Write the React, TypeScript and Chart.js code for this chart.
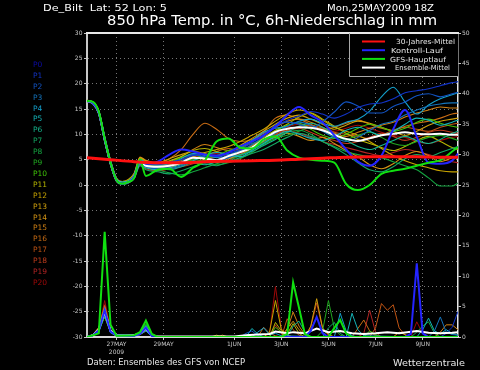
import React, { useEffect, useRef } from 'react';
import { Chart, registerables } from 'chart.js';

Chart.register(...registerables);

// ---------- texts ----------
const HEADER_LEFT = 'De_Bilt  Lat: 52 Lon: 5';
const HEADER_RIGHT = 'Mon,25MAY2009 18Z';
const TITLE = '850 hPa Temp. in °C, 6h-Niederschlag in mm';
const FOOTER_LEFT = 'Daten: Ensembles des GFS von NCEP';
const FOOTER_RIGHT = 'Wetterzentrale';
const LEGEND_LABELS = ['30-Jahres-Mittel', 'Kontroll-Lauf', 'GFS-Hauptlauf', 'Ensemble-Mittel'];
const MEMBER_LABELS = ['P0', 'P1', 'P2', 'P3', 'P4', 'P5', 'P6', 'P7', 'P8', 'P9', 'P10',
  'P11', 'P12', 'P13', 'P14', 'P15', 'P16', 'P17', 'P18', 'P19', 'P20'];
const MEMBER_LABEL_COLORS = ['#0c0ca8', '#1234c8', '#1254c4', '#1474bc', '#14a0cc', '#14b4b8', '#14b48c',
  '#14a864', '#14a440', '#20a820', '#40c408', '#b4b400', '#c8a400', '#d0a00c', '#d49414', '#d08014',
  '#c86c14', '#c05414', '#c03c1c', '#b42424', '#a00808'];

// ---------- x axis (hours after 25MAY2009 18Z) ----------
const X_MAX_HOURS = 378;
const X_TICK_HOURS = [30, 78, 150, 198, 246, 294, 342];
const X_TICK_LABELS: (string | string[])[] = [['27MAY', '2009'], '29MAY', '1JUN', '3JUN', '5JUN', '7JUN', '9JUN'];

// ---------- 850 hPa temperature (°C) ----------
const T_HOURS = [0, 6, 12, 18, 24, 30, 36, 42, 48, 54, 60, 72, 84, 96, 108, 120, 132, 144, 156, 168, 180, 192,
  204, 216, 228, 240, 252, 264, 276, 288, 300, 312, 324, 336, 348, 360, 372, 378];

const T_P1 = [16.5, 16.1, 14.2, 9.2, 4.5, 1.1, 0.3, 0.5, 1.8, 4.8, 4.2, 4.0, 4.5, 5.0, 5.8, 6.0, 5.6, 6.2, 7.0, 8.4, 10.0, 11.5, 12.8, 13.6, 14.5, 14.0, 13.2, 14.0, 15.3, 16.0, 16.2, 17.0, 18.2, 18.6, 19.0, 19.6, 20.2, 20.4];
const T_P2 = [16.6, 16.0, 14.0, 8.6, 4.0, 0.8, 0.2, 0.6, 1.5, 4.2, 3.6, 3.2, 3.6, 4.6, 6.0, 5.6, 4.8, 5.4, 6.6, 8.0, 9.6, 11.8, 12.4, 12.0, 11.2, 12.5, 14.4, 16.4, 15.6, 14.2, 14.2, 15.5, 16.4, 17.6, 18.0, 17.4, 18.0, 18.3];
const T_P3 = [16.6, 16.3, 14.5, 9.4, 4.6, 1.2, 0.5, 0.7, 1.7, 4.6, 3.9, 3.4, 3.2, 3.8, 4.6, 4.4, 5.0, 5.9, 6.8, 7.4, 8.8, 10.2, 11.6, 12.4, 11.8, 10.6, 9.4, 8.6, 9.4, 10.8, 12.0, 12.6, 13.8, 14.8, 15.6, 16.0, 16.2, 16.2];
const T_P4 = [16.5, 16.2, 14.1, 8.8, 4.2, 0.9, 0.3, 0.5, 1.9, 5.0, 4.4, 3.9, 4.2, 5.2, 6.2, 6.0, 5.4, 6.4, 7.6, 8.8, 10.4, 11.2, 11.6, 12.6, 13.0, 12.2, 11.6, 12.4, 13.0, 14.6, 17.4, 19.3, 16.4, 14.0, 15.8, 17.0, 17.8, 18.2];
const T_P5 = [16.6, 16.1, 14.4, 9.1, 4.4, 1.1, 0.5, 0.8, 1.4, 4.1, 3.4, 3.0, 3.4, 4.0, 4.8, 5.8, 6.4, 6.0, 5.6, 6.8, 8.2, 9.6, 10.6, 10.0, 9.2, 8.8, 9.6, 10.8, 11.4, 10.6, 9.8, 10.6, 12.0, 13.2, 12.8, 11.8, 12.4, 12.8];
const T_P6 = [16.7, 16.3, 14.6, 9.5, 4.8, 1.3, 0.6, 0.7, 1.6, 4.4, 3.7, 3.4, 3.0, 3.6, 4.4, 4.0, 4.6, 5.4, 6.0, 6.6, 7.8, 9.0, 10.4, 11.6, 12.2, 11.4, 10.0, 8.8, 7.6, 7.0, 7.8, 8.8, 9.6, 8.8, 8.2, 9.0, 10.2, 10.6];
const T_P7 = [16.6, 16.2, 14.2, 8.9, 4.1, 0.9, 0.2, 0.4, 1.2, 3.8, 3.0, 2.6, 2.2, 2.8, 3.6, 4.2, 3.8, 4.6, 5.4, 6.2, 7.0, 8.2, 9.4, 10.2, 9.6, 8.6, 7.4, 6.0, 4.4, 3.0, 2.6, 3.6, 5.2, 6.0, 5.6, 6.4, 7.2, 7.6];
const T_P8 = [16.5, 16.0, 14.0, 8.7, 4.0, 0.7, 0.1, 0.4, 1.5, 4.3, 3.5, 3.0, 2.4, 2.0, 2.6, 3.4, 4.2, 4.8, 5.8, 7.0, 8.4, 9.6, 10.4, 10.8, 10.0, 8.6, 7.6, 6.6, 6.0, 5.6, 5.4, 4.6, 3.8, 3.0, 1.4, -0.2, -0.2, 0.4];
const T_P9 = [16.6, 16.2, 14.3, 9.0, 4.3, 1.0, 0.4, 0.6, 1.7, 4.6, 3.7, 3.2, 3.8, 4.2, 5.0, 4.6, 4.0, 4.4, 5.2, 6.4, 8.0, 9.2, 9.8, 10.6, 11.4, 10.8, 9.6, 9.0, 9.8, 10.4, 9.4, 8.2, 7.8, 8.6, 9.4, 9.8, 9.2, 8.8];
const T_P10 = [16.6, 16.3, 14.4, 9.3, 4.6, 1.2, 0.6, 0.9, 2.0, 5.1, 4.3, 3.8, 4.4, 5.4, 6.0, 5.4, 5.8, 6.8, 7.4, 8.2, 9.0, 10.6, 11.8, 12.2, 11.0, 9.8, 9.2, 10.0, 11.2, 12.0, 11.4, 10.6, 11.2, 12.4, 13.0, 12.2, 11.6, 11.4];
const T_P11 = [16.7, 16.4, 14.7, 9.6, 4.9, 1.4, 0.7, 1.0, 2.1, 5.2, 4.6, 4.2, 4.8, 5.6, 6.8, 7.2, 6.6, 6.0, 6.8, 7.8, 9.4, 10.8, 12.0, 13.4, 14.2, 13.0, 11.6, 10.2, 9.0, 8.2, 7.4, 6.8, 7.6, 8.8, 9.6, 8.6, 7.4, 7.0];
const T_P12 = [16.6, 16.2, 14.3, 9.1, 4.4, 1.0, 0.3, 0.6, 1.8, 4.7, 4.0, 3.6, 4.0, 4.8, 5.6, 6.4, 7.0, 7.6, 8.6, 9.8, 11.0, 12.6, 14.0, 14.8, 14.2, 12.8, 11.4, 10.6, 9.8, 8.6, 7.2, 5.8, 4.8, 4.0, 3.4, 2.8, 2.6, 2.6];
const T_P13 = [16.5, 16.1, 14.2, 9.0, 4.4, 1.1, 0.5, 0.9, 2.2, 5.4, 4.8, 4.4, 5.2, 6.0, 6.6, 6.2, 5.6, 6.4, 7.8, 9.2, 10.6, 12.0, 13.2, 13.8, 13.0, 12.0, 11.0, 11.8, 12.6, 12.2, 11.4, 10.6, 9.8, 10.6, 11.8, 12.6, 13.0, 13.2];
const T_P14 = [16.6, 16.0, 14.0, 8.8, 4.1, 0.8, 0.3, 0.5, 1.4, 4.2, 3.5, 3.0, 3.4, 4.4, 5.6, 5.0, 4.4, 5.2, 6.0, 7.2, 8.6, 9.4, 10.2, 9.6, 8.8, 9.4, 8.2, 6.8, 5.6, 4.0, 3.2, 4.2, 5.8, 6.6, 5.8, 4.6, 5.4, 5.8];
const T_P15 = [16.7, 16.3, 14.5, 9.3, 4.7, 1.3, 0.6, 0.9, 2.0, 5.0, 4.5, 4.0, 4.6, 5.6, 7.0, 8.0, 7.4, 6.8, 7.2, 8.6, 10.2, 11.4, 12.6, 13.0, 12.4, 11.4, 10.2, 9.6, 10.4, 11.2, 11.8, 12.4, 13.4, 14.2, 14.8, 15.4, 15.2, 15.2];
const T_P16 = [16.6, 16.4, 14.6, 9.4, 4.8, 1.4, 0.7, 1.1, 2.3, 5.5, 4.9, 4.4, 5.2, 7.0, 10.0, 12.2, 11.0, 9.2, 8.6, 9.0, 10.6, 13.2, 13.8, 13.0, 12.0, 11.0, 11.4, 12.2, 12.8, 12.0, 11.2, 10.8, 11.6, 12.2, 12.6, 13.2, 14.0, 14.2];
const T_P17 = [16.6, 16.1, 14.1, 8.9, 4.2, 0.9, 0.3, 0.6, 1.6, 4.4, 3.8, 3.4, 3.8, 4.2, 5.0, 5.8, 6.6, 7.2, 6.8, 7.4, 8.8, 10.0, 10.8, 11.6, 11.8, 11.2, 10.4, 10.0, 9.6, 9.2, 9.8, 10.8, 11.4, 11.0, 10.6, 11.4, 12.0, 12.2];
const T_P18 = [16.5, 16.0, 14.0, 8.6, 3.9, 0.7, 0.2, 0.4, 1.3, 3.9, 3.2, 2.8, 3.2, 3.6, 4.2, 5.0, 5.6, 5.2, 5.8, 7.0, 8.6, 9.8, 10.6, 11.2, 10.4, 9.4, 8.8, 8.2, 8.6, 9.4, 10.2, 9.6, 8.8, 9.4, 10.4, 10.8, 10.4, 10.2];
const T_P19 = [16.6, 16.2, 14.4, 9.2, 4.5, 1.1, 0.4, 0.7, 1.8, 4.6, 4.0, 3.8, 4.2, 5.0, 5.8, 5.4, 5.0, 5.6, 6.4, 7.8, 9.2, 10.2, 10.8, 10.2, 9.4, 8.6, 8.0, 7.4, 6.8, 6.2, 5.8, 6.4, 7.0, 6.6, 6.0, 5.2, 4.6, 4.4];
const T_P20 = [16.7, 16.2, 14.3, 9.0, 4.3, 1.0, 0.4, 0.6, 1.5, 4.4, 3.6, 3.2, 3.6, 4.2, 5.2, 5.8, 6.2, 5.8, 6.2, 7.2, 8.8, 10.4, 11.4, 12.0, 11.6, 11.0, 10.6, 11.2, 11.8, 11.2, 10.4, 9.8, 9.4, 8.6, 8.2, 8.8, 9.4, 9.6];
const T_CONTROL = [16.6, 16.2, 14.3, 9.1, 4.4, 1.0, 0.4, 0.6, 1.7, 4.6, 4.2, 4.6, 6.0, 7.0, 6.6, 6.0, 5.8, 6.4, 7.6, 8.6, 9.8, 11.5, 13.8, 15.4, 13.8, 12.4, 9.8, 7.0, 4.6, 3.8, 5.8, 11.0, 14.8, 9.5, 4.4, 4.2, 4.8, 6.2];
const T_GFS = [16.6, 16.4, 14.5, 9.2, 4.4, 1.0, 0.3, 0.6, 1.4, 5.0, 1.8, 3.0, 3.2, 1.6, 3.4, 4.8, 8.6, 9.2, 7.4, 7.2, 9.0, 9.6, 6.8, 5.4, 5.0, 4.8, 4.4, 0.2, -1.0, 0.0, 2.2, 2.8, 3.2, 3.8, 4.4, 4.9, 6.6, 7.5];
const T_MEAN = [16.6, 16.2, 14.3, 9.0, 4.3, 1.0, 0.4, 0.6, 1.7, 4.6, 3.8, 3.6, 3.8, 4.4, 5.4, 5.2, 4.9, 5.7, 6.5, 7.4, 9.0, 10.5, 11.1, 11.4, 11.3, 10.8, 9.9, 9.1, 8.7, 9.2, 9.8, 10.1, 10.4, 10.1, 10.0, 10.1, 9.9, 9.9];

const CLIM_HOURS = [0, 24, 48, 72, 96, 120, 144, 168, 192, 216, 240, 264, 288, 312, 336, 360, 378];
const T_CLIM = [5.4, 5.0, 4.6, 4.4, 4.4, 4.6, 4.7, 4.8, 4.9, 5.1, 5.3, 5.5, 5.6, 5.6, 5.6, 5.5, 5.5];

// ---------- 6h precipitation (mm), [hour, mm] ----------
const R_P1 = [[0, 0], [6, 0.2], [12, 1.0], [18, 3.8], [24, 0.9], [30, 0.3], [48, 0.2], [54, 0.4], [60, 1.3], [66, 0.2], [72, 0], [360, 0], [366, 0.6], [372, 1.6], [378, 4.2]];
const R_P2 = [[0, 0], [6, 0.3], [12, 1.3], [18, 4.4], [24, 0.8], [30, 0.2], [48, 0.3], [54, 0.6], [60, 1.6], [66, 0.3], [72, 0], [156, 0], [162, 0.6], [168, 1.0], [174, 0.2], [180, 0], [222, 0], [228, 1.2], [234, 3.3], [240, 0.8], [246, 0], [378, 0]];
const R_P3 = [[0, 0], [6, 0.2], [12, 0.9], [18, 4.0], [24, 1.0], [30, 0.3], [48, 0.2], [54, 0.5], [60, 1.2], [66, 0.2], [72, 0], [348, 0], [354, 1.0], [360, 3.3], [366, 0.8], [372, 0.4], [378, 0.3]];
const R_P4 = [[0, 0], [6, 0.3], [12, 1.1], [18, 3.6], [24, 0.7], [30, 0.2], [48, 0.2], [54, 0.4], [60, 1.0], [66, 0.1], [72, 0], [168, 0], [174, 0.8], [180, 1.5], [186, 0.4], [192, 0.6], [198, 0.2], [252, 0], [258, 3.9], [264, 1.0], [270, 0.2], [276, 0], [378, 0]];
const R_P5 = [[0, 0], [6, 0.2], [12, 1.0], [18, 4.1], [24, 1.1], [30, 0.3], [48, 0.3], [54, 0.6], [60, 1.8], [66, 0.3], [72, 0], [162, 0], [168, 1.4], [174, 0.5], [180, 0], [264, 0], [270, 3.9], [276, 1.2], [282, 0.2], [336, 0], [342, 1.2], [348, 3.1], [354, 1.0], [360, 0.5], [366, 1.2], [372, 0.6], [378, 0.3]];
const R_P6 = [[0, 0], [6, 0.2], [12, 0.8], [18, 3.5], [24, 0.8], [30, 0.2], [48, 0.2], [54, 0.5], [60, 1.4], [66, 0.2], [72, 0], [204, 0], [210, 1.8], [216, 2.6], [222, 0.8], [228, 0], [378, 0]];
const R_P7 = [[0, 0], [6, 0.3], [12, 1.2], [18, 4.6], [24, 1.0], [30, 0.3], [48, 0.3], [54, 0.7], [60, 2.0], [66, 0.4], [72, 0], [240, 0], [246, 1.5], [252, 2.4], [258, 0.6], [264, 0], [378, 0]];
const R_P8 = [[0, 0], [6, 0.2], [12, 1.0], [18, 3.9], [24, 0.9], [30, 0.2], [48, 0.2], [54, 0.6], [60, 1.7], [66, 0.3], [72, 0], [330, 0], [336, 0.8], [342, 1.8], [348, 2.5], [354, 0.6], [360, 0], [378, 0]];
const R_P9 = [[0, 0], [6, 0.3], [12, 1.1], [18, 4.3], [24, 0.8], [30, 0.2], [48, 0.3], [54, 0.7], [60, 2.2], [66, 0.4], [72, 0], [234, 0], [240, 1.0], [246, 6.0], [252, 1.4], [258, 0.3], [264, 0], [378, 0]];
const R_P10 = [[0, 0], [6, 0.2], [12, 0.9], [18, 3.4], [24, 0.7], [30, 0.2], [48, 0.2], [54, 0.5], [60, 1.5], [66, 0.2], [72, 0], [186, 0], [192, 1.6], [198, 0.8], [204, 0], [282, 0], [288, 1.0], [294, 0.4], [300, 0], [378, 0]];
const R_P11 = [[0, 0], [6, 0.4], [12, 1.4], [18, 4.8], [24, 1.0], [30, 0.3], [48, 0.2], [54, 0.4], [60, 1.1], [66, 0.2], [72, 0], [126, 0], [132, 0.3], [138, 0], [186, 0], [192, 2.4], [198, 1.0], [204, 0.5], [210, 2.2], [216, 0.6], [222, 0], [378, 0]];
const R_P12 = [[0, 0], [6, 0.3], [12, 1.2], [18, 3.3], [24, 0.8], [30, 0.2], [48, 0.2], [54, 0.5], [60, 1.2], [66, 0.2], [72, 0], [180, 0], [186, 0.8], [192, 6.0], [198, 1.2], [204, 0.3], [210, 0], [378, 0]];
const R_P13 = [[0, 0], [6, 0.3], [12, 1.3], [18, 4.5], [24, 0.9], [30, 0.3], [48, 0.3], [54, 0.6], [60, 1.4], [66, 0.3], [72, 0], [132, 0], [138, 0.3], [144, 0], [222, 0], [228, 1.8], [234, 6.3], [240, 1.5], [246, 0.4], [252, 0], [378, 0]];
const R_P14 = [[0, 0], [6, 0.4], [12, 1.5], [18, 5.0], [24, 1.1], [30, 0.3], [48, 0.2], [54, 0.4], [60, 1.0], [66, 0.2], [72, 0], [198, 0], [204, 1.4], [210, 2.6], [216, 1.2], [222, 0.3], [228, 0], [312, 0], [318, 0.8], [324, 0.4], [330, 0], [378, 0]];
const R_P15 = [[0, 0], [6, 0.3], [12, 1.2], [18, 4.4], [24, 1.0], [30, 0.3], [48, 0.2], [54, 0.5], [60, 1.3], [66, 0.2], [72, 0], [198, 0], [204, 1.2], [210, 4.1], [216, 1.8], [222, 0.4], [228, 0], [354, 0], [360, 0.8], [366, 2.0], [372, 2.0], [378, 1.2]];
const R_P16 = [[0, 0], [6, 0.4], [12, 1.6], [18, 4.7], [24, 1.2], [30, 0.4], [48, 0.2], [54, 0.5], [60, 1.5], [66, 0.3], [72, 0], [174, 0], [180, 1.6], [186, 0.6], [192, 0.2], [198, 0], [270, 0], [276, 1.4], [282, 2.8], [288, 1.0], [294, 0.2], [300, 0], [378, 0]];
const R_P17 = [[0, 0], [6, 0.3], [12, 1.1], [18, 4.2], [24, 0.9], [30, 0.3], [48, 0.2], [54, 0.6], [60, 1.6], [66, 0.2], [72, 0], [198, 0], [204, 3.0], [210, 1.2], [216, 0.3], [222, 0], [288, 0], [294, 1.5], [300, 5.5], [306, 4.4], [312, 5.3], [318, 1.5], [324, 0.3], [330, 0], [378, 0]];
const R_P18 = [[0, 0], [6, 0.4], [12, 1.4], [18, 5.3], [24, 1.1], [30, 0.4], [48, 0.3], [54, 0.6], [60, 1.9], [66, 0.4], [72, 0], [222, 0], [228, 1.6], [234, 5.6], [240, 1.4], [246, 0.3], [252, 0], [378, 0]];
const R_P19 = [[0, 0], [6, 0.3], [12, 1.3], [18, 5.2], [24, 1.0], [30, 0.3], [48, 0.2], [54, 0.5], [60, 1.2], [66, 0.2], [72, 0], [186, 0], [192, 2.0], [198, 0.6], [204, 0], [276, 0], [282, 0.6], [288, 4.4], [294, 0.8], [300, 0], [378, 0]];
const R_P20 = [[0, 0], [6, 0.3], [12, 1.2], [18, 6.0], [24, 1.3], [30, 0.4], [48, 0.3], [54, 0.6], [60, 1.5], [66, 0.3], [72, 0], [180, 0], [186, 0.6], [192, 8.3], [198, 1.4], [204, 0.3], [210, 0], [330, 0], [336, 2.5], [342, 0.6], [348, 0], [378, 0]];
const R_CONTROL = [[0, 0], [6, 0.3], [12, 1.1], [18, 4.4], [24, 0.9], [30, 0.3], [48, 0.2], [54, 0.5], [60, 1.5], [66, 0.2], [72, 0], [222, 0], [228, 1.0], [234, 3.3], [240, 0.6], [246, 0], [324, 0], [330, 0.5], [336, 12.1], [342, 0.6], [348, 0], [378, 0]];
const R_GFS = [[0, 0], [6, 0.3], [12, 0.6], [18, 17.3], [24, 2.0], [30, 0.2], [48, 0.3], [54, 0.8], [60, 2.7], [66, 0.5], [72, 0], [198, 0], [204, 0.5], [210, 9.0], [216, 4.8], [222, 0.5], [228, 0], [246, 0], [252, 1.5], [258, 2.8], [264, 0.6], [270, 0], [378, 0]];
const R_MEAN = [[0, 0], [6, 0.3], [12, 1.2], [18, 4.2], [24, 1.0], [30, 0.3], [36, 0.3], [48, 0.3], [54, 0.6], [60, 1.4], [66, 0.3], [72, 0.1], [150, 0.1], [162, 0.3], [174, 0.4], [186, 0.5], [192, 0.9], [204, 0.6], [210, 0.8], [222, 0.6], [234, 1.4], [246, 0.8], [258, 1.0], [270, 0.6], [282, 0.5], [294, 0.6], [306, 0.8], [318, 0.6], [336, 1.0], [348, 0.7], [360, 0.6], [372, 0.7], [378, 0.8]];

const MEMBER_TEMPS = [T_P1, T_P2, T_P3, T_P4, T_P5, T_P6, T_P7, T_P8, T_P9, T_P10, T_P11, T_P12, T_P13, T_P14, T_P15, T_P16, T_P17, T_P18, T_P19, T_P20];
const MEMBER_PRECIP = [R_P1, R_P2, R_P3, R_P4, R_P5, R_P6, R_P7, R_P8, R_P9, R_P10, R_P11, R_P12, R_P13, R_P14, R_P15, R_P16, R_P17, R_P18, R_P19, R_P20];

// ---------- styles ----------
const COLOR_CLIM = '#ff1010';
const COLOR_CONTROL = '#2424ff';
const COLOR_GFS = '#10e010';
const COLOR_MEAN = '#ffffff';
const LEGEND_COLORS = [COLOR_CLIM, COLOR_CONTROL, COLOR_GFS, COLOR_MEAN];
const FONT = 'DejaVu Sans';
const AXIS_TEXT = '#c8c8c8';
const GRID_COLOR = '#767676';

function drawFitted(ctx: CanvasRenderingContext2D, text: string, x: number, y: number, width: number, size: number, color: string) {
  ctx.save();
  ctx.font = `${size}px "${FONT}"`;
  ctx.fillStyle = color;
  ctx.textAlign = 'left';
  ctx.textBaseline = 'alphabetic';
  const w = ctx.measureText(text).width || 1;
  ctx.translate(x, y);
  ctx.scale(width / w, 1);
  ctx.fillText(text, 0, 0);
  ctx.restore();
}

const decorPlugin = {
  id: 'decor',
  beforeDraw(chart: any) {
    const ctx = chart.ctx as CanvasRenderingContext2D;
    ctx.save();
    ctx.fillStyle = '#000';
    ctx.fillRect(0, 0, chart.width, chart.height);
    ctx.restore();
  },
  afterDraw(chart: any) {
    const ctx = chart.ctx as CanvasRenderingContext2D;
    const a = chart.chartArea;
    ctx.save();
    // frame top
    ctx.strokeStyle = '#e8e8e8';
    ctx.lineWidth = 2;
    ctx.beginPath();
    ctx.moveTo(a.left - 1, a.top);
    ctx.lineTo(a.right + 1, a.top);
    ctx.stroke();

    // legend box
    const lw = 109, lh = 43;
    const lx = a.right - lw, ly = a.top;
    ctx.fillStyle = '#000';
    ctx.fillRect(lx, ly + 1, lw, lh - 1);
    ctx.strokeStyle = '#a8a8a8';
    ctx.lineWidth = 1;
    ctx.beginPath();
    ctx.moveTo(lx + 0.5, ly);
    ctx.lineTo(lx + 0.5, ly + lh + 0.5);
    ctx.lineTo(a.right, ly + lh + 0.5);
    ctx.stroke();
    const textX = [396, 391, 390, 395];
    const textW = [59, 52, 56, 55];
    LEGEND_LABELS.forEach((label, i) => {
      const yy = ly + 8.5 + i * 8.7;
      ctx.strokeStyle = LEGEND_COLORS[i];
      ctx.lineWidth = 2;
      ctx.beginPath();
      ctx.moveTo(lx + 13, yy);
      ctx.lineTo(lx + 36, yy);
      ctx.stroke();
      drawFitted(ctx, label, textX[i], yy + 2.6, textW[i], 7, '#e4e4e4');
    });

    // header and footer
    drawFitted(ctx, HEADER_LEFT, 43, 10.5, 124, 9, '#ffffff');
    drawFitted(ctx, HEADER_RIGHT, 327, 10.5, 107, 9, '#ffffff');
    drawFitted(ctx, TITLE, 107, 25, 330, 14.5, '#ffffff');
    drawFitted(ctx, FOOTER_LEFT, 87, 364.5, 158, 8, '#e8e8e8');
    drawFitted(ctx, FOOTER_RIGHT, 393, 365.5, 72, 9, '#e8e8e8');

    // member labels
    ctx.font = `7.5px "${FONT}"`;
    ctx.textAlign = 'left';
    ctx.textBaseline = 'middle';
    MEMBER_LABELS.forEach((label, i) => {
      ctx.fillStyle = MEMBER_LABEL_COLORS[i];
      ctx.fillText(label, 33, 65 + i * 10.9);
    });
    ctx.restore();
  },
};

function tempData(values: number[], hours: number[] = T_HOURS) {
  return hours.map((h, i) => ({ x: h, y: values[i] }));
}
function precipData(pairs: number[][]) {
  return pairs.map(([h, v]) => ({ x: h, y: v }));
}

export default function App() {
  const ref = useRef<HTMLCanvasElement | null>(null);

  useEffect(() => {
    document.body.style.margin = '0';
    document.body.style.background = '#000';
    const canvas = ref.current;
    if (!canvas) return;

    const line = (data: any[], color: string, width: number, axis: string, smooth: boolean) => ({
      data,
      borderColor: color,
      backgroundColor: color,
      borderWidth: width,
      pointRadius: 0,
      fill: false,
      yAxisID: axis,
      cubicInterpolationMode: smooth ? 'monotone' : 'default',
      tension: 0,
    });

    // first dataset is drawn on top
    const datasets: any[] = [
      line(tempData(T_CLIM, CLIM_HOURS), COLOR_CLIM, 3, 'y', true),
      line(tempData(T_GFS), COLOR_GFS, 2, 'y', true),
      line(tempData(T_CONTROL), COLOR_CONTROL, 2, 'y', true),
      line(tempData(T_MEAN), COLOR_MEAN, 2, 'y', true),
      line(precipData(R_GFS), COLOR_GFS, 2, 'y2', false),
      line(precipData(R_CONTROL), COLOR_CONTROL, 2, 'y2', false),
      line(precipData(R_MEAN), COLOR_MEAN, 2, 'y2', false),
    ];
    MEMBER_TEMPS.forEach((vals, i) => {
      datasets.push(line(tempData(vals), MEMBER_LABEL_COLORS[i + 1], 1.1, 'y', true));
    });
    MEMBER_PRECIP.forEach((pairs, i) => {
      datasets.push(line(precipData(pairs), MEMBER_LABEL_COLORS[i + 1], 1, 'y2', false));
    });

    const tickFont = { family: FONT, size: 6, lineHeight: 1.25 };

    const chart = new Chart(canvas, {
      type: 'line',
      data: { datasets },
      options: {
        responsive: false,
        animation: false,
        devicePixelRatio: 1,
        events: [],
        layout: { padding: { top: 33, left: 0, right: 0, bottom: 0 } },
        plugins: {
          legend: { display: false },
          tooltip: { enabled: false },
          title: { display: false },
        },
        scales: {
          x: {
            type: 'linear',
            min: 0,
            max: X_MAX_HOURS,
            afterBuildTicks: (scale: any) => {
              scale.ticks = X_TICK_HOURS.map((v) => ({ value: v }));
            },
            afterFit: (scale: any) => {
              scale.height = 33;
            },
            ticks: {
              autoSkip: false,
              maxRotation: 0,
              minRotation: 0,
              padding: 1,
              color: AXIS_TEXT,
              font: tickFont,
              callback: (value: any) => {
                const i = X_TICK_HOURS.indexOf(Number(value));
                return i >= 0 ? X_TICK_LABELS[i] : '';
              },
            },
            grid: { color: GRID_COLOR, lineWidth: 1, drawTicks: true, tickLength: 3, tickColor: AXIS_TEXT },
            border: { display: true, color: '#d8d8d8', width: 2, dash: [1, 3] },
          },
          y: {
            position: 'left',
            min: -30,
            max: 30,
            afterFit: (scale: any) => {
              scale.width = 87;
            },
            ticks: { stepSize: 5, padding: 1.5, color: AXIS_TEXT, font: tickFont },
            grid: { color: GRID_COLOR, lineWidth: 1, drawTicks: true, tickLength: 3, tickColor: AXIS_TEXT },
            border: { display: true, color: '#c8c8c8', width: 2, dash: [1, 3] },
          },
          y2: {
            position: 'right',
            min: 0,
            max: 50,
            afterFit: (scale: any) => {
              scale.width = 22;
            },
            ticks: { stepSize: 5, padding: 1, color: AXIS_TEXT, font: tickFont },
            grid: { drawOnChartArea: false, drawTicks: true, tickLength: 3, tickColor: AXIS_TEXT },
            border: { display: true, color: '#e8e8e8', width: 1.5 },
          },
        },
      } as any,
      plugins: [decorPlugin],
    } as any);

    return () => chart.destroy();
  }, []);

  return (
    <div style={{ position: 'fixed', left: 0, top: 0, width: 480, height: 370, background: '#000' }}>
      <canvas ref={ref} width={480} height={370} style={{ display: 'block', width: 480, height: 370 }} />
    </div>
  );
}
